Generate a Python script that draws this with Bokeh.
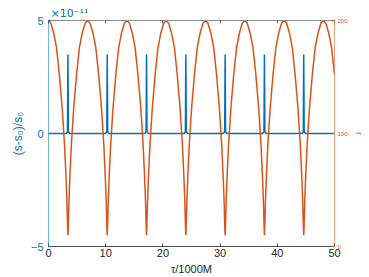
from bokeh.plotting import figure
from bokeh.models import Range1d, LinearAxis, FixedTicker, Title
from bokeh.embed import file_html
from bokeh.resources import INLINE

# ---- data ----
# tau / 1000M for the r series
TAU_R = [0.0,
         0.40, 0.90, 1.40, 1.90, 2.40, 2.80, 3.05, 3.22, 3.32, 3.37, 3.40, 3.43, 3.48, 3.58, 3.75, 4.00, 4.40, 4.90, 5.40, 5.90, 6.40, 6.835,
         7.27, 7.77, 8.27, 8.77, 9.27, 9.67, 9.92, 10.09, 10.19, 10.24, 10.27, 10.30, 10.35, 10.45, 10.62, 10.87, 11.27, 11.77, 12.27, 12.77, 13.27, 13.705,
         14.14, 14.64, 15.14, 15.64, 16.14, 16.54, 16.79, 16.96, 17.06, 17.11, 17.14, 17.17, 17.22, 17.32, 17.49, 17.74, 18.14, 18.64, 19.14, 19.64, 20.14, 20.575,
         21.01, 21.51, 22.01, 22.51, 23.01, 23.41, 23.66, 23.83, 23.93, 23.98, 24.01, 24.04, 24.09, 24.19, 24.36, 24.61, 25.01, 25.51, 26.01, 26.51, 27.01, 27.445,
         27.88, 28.38, 28.88, 29.38, 29.88, 30.28, 30.53, 30.70, 30.80, 30.85, 30.88, 30.91, 30.96, 31.06, 31.23, 31.48, 31.88, 32.38, 32.88, 33.38, 33.88, 34.315,
         34.75, 35.25, 35.75, 36.25, 36.75, 37.15, 37.40, 37.57, 37.67, 37.72, 37.75, 37.78, 37.83, 37.93, 38.10, 38.35, 38.75, 39.25, 39.75, 40.25, 40.75, 41.185,
         41.62, 42.12, 42.62, 43.12, 43.62, 44.02, 44.27, 44.44, 44.54, 44.59, 44.62, 44.65, 44.70, 44.80, 44.97, 45.22, 45.62, 46.12, 46.62, 47.12, 47.62, 48.055,
         48.49, 48.99, 49.49, 50.0]
# r (right axis)
R_VAL = [200,
         197.5, 189, 176, 152, 122, 90, 63, 40, 22, 13, 10, 13, 22, 40, 63, 90, 122, 152, 176, 189, 197.5, 200,
         197.5, 189, 176, 152, 122, 90, 63, 40, 22, 13, 10, 13, 22, 40, 63, 90, 122, 152, 176, 189, 197.5, 200,
         197.5, 189, 176, 152, 122, 90, 63, 40, 22, 13, 10, 13, 22, 40, 63, 90, 122, 152, 176, 189, 197.5, 200,
         197.5, 189, 176, 152, 122, 90, 63, 40, 22, 13, 10, 13, 22, 40, 63, 90, 122, 152, 176, 189, 197.5, 200,
         197.5, 189, 176, 152, 122, 90, 63, 40, 22, 13, 10, 13, 22, 40, 63, 90, 122, 152, 176, 189, 197.5, 200,
         197.5, 189, 176, 152, 122, 90, 63, 40, 22, 13, 10, 13, 22, 40, 63, 90, 122, 152, 176, 189, 197.5, 200,
         197.5, 189, 176, 152, 122, 90, 63, 40, 22, 13, 10, 13, 22, 40, 63, 90, 122, 152, 176, 189, 197.5, 200,
         197.5, 189, 176, 152]

# tau / 1000M for the (s-s0)/s0 series
TAU_S = [0.0,
         3.10, 3.32, 3.40, 3.48, 3.70,
         9.97, 10.19, 10.27, 10.35, 10.57,
         16.84, 17.06, 17.14, 17.22, 17.44,
         23.71, 23.93, 24.01, 24.09, 24.31,
         30.58, 30.80, 30.88, 30.96, 31.18,
         37.45, 37.67, 37.75, 37.83, 38.05,
         44.32, 44.54, 44.62, 44.70, 44.92,
         50.0]
# (s-s0)/s0 in units of 1e-11
S_VAL = [0,
         0, 0.08, 3.5, 0.08, 0,
         0, 0.08, 3.5, 0.08, 0,
         0, 0.08, 3.5, 0.08, 0,
         0, 0.08, 3.5, 0.08, 0,
         0, 0.08, 3.5, 0.08, 0,
         0, 0.08, 3.5, 0.08, 0,
         0, 0.08, 3.5, 0.08, 0,
         0]

X_TICKS = [0, 10, 20, 30, 40, 50]
Y_TICKS = [-5, 0, 5]
R_TICKS = [0, 100, 200]

BLUE = "#0072BD"
ORANGE = "#D95319"
FONT = "Liberation Sans"

p = figure(width=369, height=277, output_backend="svg", toolbar_location=None,
           x_range=Range1d(0, 50), y_range=Range1d(-5, 5),
           min_border_left=48, min_border_right=35, min_border_top=20, min_border_bottom=31)
p.extra_y_ranges = {"r": Range1d(0, 200)}
p.outline_line_color = None
p.grid.visible = False
p.background_fill_color = "white"
p.border_fill_color = "white"

# exponent label (left-aligned title above the frame)
p.title = Title(text="×10⁻¹¹", align="left", offset=2, standoff=1,
                text_font="DejaVu Sans", text_font_size="11px", text_font_style="normal",
                text_color=BLUE)

# bottom axis
xa = p.xaxis[0]
xa.ticker = FixedTicker(ticks=X_TICKS)
xa.axis_line_color = "#4d4d4d"
xa.major_tick_line_color = "#4d4d4d"
xa.major_tick_in = 3
xa.major_tick_out = 0
xa.minor_tick_line_color = None
xa.major_label_text_font = FONT
xa.major_label_text_font_size = "11px"
xa.major_label_text_color = "#262626"
xa.major_label_standoff = 2
xa.axis_label = "τ/1000M"
xa.axis_label_text_font = FONT
xa.axis_label_text_font_style = "normal"
xa.axis_label_text_font_size = "11px"
xa.axis_label_text_color = "#262626"
xa.axis_label_standoff = 3

# top axis (ticks only)
ta = LinearAxis(ticker=FixedTicker(ticks=X_TICKS), major_label_standoff=0,
                major_label_overrides={t: "" for t in X_TICKS})
ta.major_label_text_font_size = "1px"
ta.axis_line_color = "#8a8a8a"
ta.major_tick_line_color = "#6a6a6a"
ta.major_tick_in = 3
ta.major_tick_out = 0
ta.minor_tick_line_color = None
p.add_layout(ta, "above")

# left axis
ya = p.yaxis[0]
ya.ticker = FixedTicker(ticks=Y_TICKS)
ya.axis_line_color = BLUE
ya.axis_line_alpha = 0.55
ya.major_tick_line_color = BLUE
ya.major_tick_in = 3
ya.major_tick_out = 0
ya.minor_tick_line_color = None
ya.major_label_text_font = FONT
ya.major_label_text_font_size = "11px"
ya.major_label_text_color = BLUE
ya.major_label_standoff = 5
ya.axis_label = "(s-s₀)/s₀"
ya.axis_label_text_font = FONT
ya.axis_label_text_font_style = "normal"
ya.axis_label_text_font_size = "12px"
ya.axis_label_text_color = BLUE
ya.axis_label_standoff = 3

# right axis
ra = LinearAxis(y_range_name="r", ticker=FixedTicker(ticks=R_TICKS))
ra.axis_line_color = ORANGE
ra.axis_line_alpha = 0.55
ra.major_tick_line_color = ORANGE
ra.major_tick_in = 3
ra.major_tick_out = 0
ra.minor_tick_line_color = None
ra.major_label_text_font = FONT
ra.major_label_text_font_size = "6px"
ra.major_label_text_color = ORANGE
ra.major_label_standoff = 3
ra.axis_label = "r"
ra.axis_label_text_font = FONT
ra.axis_label_text_font_style = "normal"
ra.axis_label_text_font_size = "9px"
ra.axis_label_text_color = ORANGE
ra.axis_label_standoff = 3
p.add_layout(ra, "right")

# series
p.line(TAU_S, S_VAL, line_color=BLUE, line_width=1.5)
p.line(TAU_R, R_VAL, line_color=ORANGE, line_width=1.5, y_range_name="r")

open("out.html", "w").write(file_html(p, INLINE))
